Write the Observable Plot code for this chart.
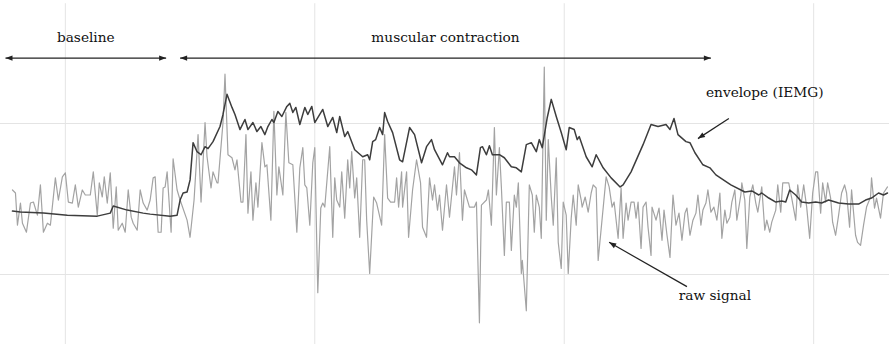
<!DOCTYPE html>
<html>
<head>
<meta charset="utf-8">
<script src="https://cdn.jsdelivr.net/npm/d3@7"></script>
<script src="https://cdn.jsdelivr.net/npm/@observablehq/plot@0.6"></script>
<style>
  html, body { margin: 0; padding: 0; background: #fff; }
  #chart svg { display: block; }
  #chart svg text { font-family: "DejaVu Serif", serif !important; }
</style>
</head>
<body>
<div id="chart"></div>
<script>
// ---- data (sample index, amplitude in arbitrary units) ----
const rawX = [197,200,202,205,207,211,215,218,222,225,228,232,235,240,243,247,250,253,257,260,263,267,270,275,278,282,284,287,289,292,295,298,301,303,307,310,313,316,318,322,325,328,332,335,338,340,343,346,348,350,352,356,358,362,365,372,375,379,383,386,390,392,396,398,402,403,408,410,413,417,420,422,426,428,431,433,436,438,441,443,447,450,452,456,459,462,464,468,471,474,478,482,485,488,490,492,495,498,500,503,506,508,510,515,518,520,522,525,527,530,533,535,537,540,542,545,548,550,552,555,559,562,567,570,573,576,580,582,584,587,588,592,594,598,602,606,608,612,615,618,620,623,625,628,632,635,640,642,645,648,650,655,660,662,665,667,672,674,677,680,682,685,687,690,692,695,697,700,702,704,707,708,712,715,718,720,722,725,727,730,732,734,737,739,742,744,747,749,752,754,757,759,762,764,767,768,771,774,777,779,782,784,792,795,798,800,804,807,809,812,814,817,820,822,824,827,829,832,834,837,838,842,845,848,850,853,856,859,862,865,868,871,873,876,879,882,884,887,889,892,894,897,900,903,906,908,911,913,916,918,921,923,927,928,931,933,936,939,942,944,948,951,953,956,958,962,964,967,969,975,978,982,984,987,990,993,996,999,1002,1004,1007,1009,1012,1014,1017,1019,1022,1025,1028,1031,1033,1036,1038,1042,1044,1047,1050,1053,1057,1058,1061,1063,1067,1070,1074];
const rawY = [84,81,49,71,51,42,71,72,59,89,42,51,49,96,74,97,101,72,71,89,67,84,79,79,102,59,91,77,97,71,101,46,87,44,51,42,84,57,51,44,84,71,64,74,96,97,42,42,86,87,102,42,115,84,74,54,37,74,139,72,151,117,86,102,91,91,151,199,119,116,104,114,72,72,139,61,102,54,91,67,131,107,109,54,162,79,107,79,161,111,109,42,106,126,89,86,49,111,126,-18,66,71,67,127,37,96,74,67,102,56,114,86,122,76,96,37,114,114,54,1,77,71,49,139,76,72,72,96,67,102,67,102,37,84,114,91,47,37,96,74,89,64,79,44,89,57,107,79,121,54,84,67,67,72,-48,69,74,84,49,146,79,126,87,19,72,72,24,79,67,91,1,14,-36,89,79,42,79,67,36,206,54,134,77,49,116,32,6,72,59,1,56,79,49,89,74,67,77,62,81,89,86,14,97,87,67,72,36,86,36,71,54,72,72,56,72,26,67,72,47,19,67,54,66,34,64,39,17,79,49,61,34,61,66,39,54,61,79,49,64,71,84,62,67,54,81,36,64,51,57,72,84,54,79,91,74,26,77,89,71,62,87,44,54,42,52,64,89,62,91,91,76,54,89,67,89,67,36,81,102,102,61,91,72,91,76,52,39,59,81,89,81,47,84,39,32,29,49,67,77,96,66,76,56,81,87];

const envX = [197,205,228,252,282,295,298,312,328,335,355,362,365,368,372,375,378,382,386,390,393,398,405,408,412,417,420,425,430,433,438,442,446,450,453,457,459,463,467,472,475,478,481,485,490,493,497,500,508,513,518,522,525,530,533,540,548,553,555,558,561,565,568,570,573,578,585,588,595,600,607,612,617,620,628,633,635,640,645,652,657,662,666,668,672,675,678,685,690,697,702,707,712,717,722,725,728,733,737,742,747,752,755,760,763,765,772,778,782,789,797,806,809,817,829,837,844,852,856,860,864,872,876,881,889,896,902,917,931,938,945,948,955,962,968,972,976,982,988,995,1002,1008,1015,1025,1035,1045,1052,1058,1065,1070,1074];
const envY = [63,62,61,59,58,61,68,64,61,60,58,59,74,81,82,94,131,122,119,127,125,132,147,159,179,166,159,144,154,144,151,142,147,139,147,154,151,162,157,167,170,161,166,149,166,159,167,151,164,147,156,141,157,137,142,124,117,119,114,132,134,146,139,161,152,141,114,112,146,139,111,127,134,124,109,121,117,117,111,106,104,99,126,127,119,128,119,119,116,107,106,102,129,131,122,134,126,156,174,157,141,124,146,144,134,137,117,107,119,106,96,87,89,102,129,149,147,149,144,155,139,132,131,121,109,106,99,89,82,83,79,81,76,72,73,72,84,79,72,71,72,71,74,71,70,70,74,76,81,79,81];

const gridXTicks = [250, 500, 750, 1000];
const gridYTicks = [0, 150];

// phase spans (double-headed arrows) and their labels
const spanLabels = ["baseline", "muscular contraction"];
const spanStart = [190, 365];
const spanEnd = [351, 897];
const spanLevel = 215;
const spanLabelLevel = 231;

// callouts
const calloutLabels = ["envelope (IEMG)", "raw signal"];
const calloutLabelX = [951, 901];
const calloutLabelY = [176, -25];
const calloutFromX = [915, 873];
const calloutFromY = [155, -12];
const calloutToX = [884, 795];
const calloutToY = [135, 32];

// ---- tables ----
const raw = rawX.map((x, i) => ({x, y: rawY[i]}));
const env = envX.map((x, i) => ({x, y: envY[i]}));
const spans = spanLabels.map((label, i) => ({label, x1: spanStart[i], x2: spanEnd[i], xm: (spanStart[i] + spanEnd[i]) / 2}));
const callouts = calloutLabels.map((label, i) => ({
  label, lx: calloutLabelX[i], ly: calloutLabelY[i],
  x1: calloutFromX[i], y1: calloutFromY[i], x2: calloutToX[i], y2: calloutToY[i]
}));

// filled triangular arrowhead
function triangleHead(orient) {
  return (color, context) => {
    const m = d3.create("svg:marker")
      .attr("viewBox", "-8 -4 9 8")
      .attr("markerWidth", 9)
      .attr("markerHeight", 8)
      .attr("markerUnits", "userSpaceOnUse")
      .attr("orient", orient)
      .attr("fill", color)
      .attr("stroke", "none");
    m.append("path").attr("d", "M0,0L-7,-2.7L-7,2.7Z");
    return m.node();
  };
}

const font = "DejaVu Serif";

const chart = Plot.plot({
  width: 889,
  height: 344,
  marginTop: 0, marginRight: 0, marginBottom: 0, marginLeft: 0,
  x: {domain: [185, 1076], axis: null},
  y: {domain: [-69.5, 272.2], axis: null},
  style: {fontFamily: font, background: "#fff"},
  marks: [
    Plot.ruleX(gridXTicks, {y1: -69.5, y2: 269, stroke: "#e4e4e4", strokeWidth: 1}),
    Plot.ruleY(gridYTicks, {stroke: "#e4e4e4", strokeWidth: 1}),
    Plot.line(raw, {x: "x", y: "y", stroke: "#a3a3a3", strokeWidth: 1.2}),
    Plot.line(env, {x: "x", y: "y", stroke: "#3d3d3d", strokeWidth: 1.5}),
    Plot.link(spans, {x1: "x1", x2: "x2", y1: spanLevel, y2: spanLevel, stroke: "#222", strokeWidth: 1.3,
      markerStart: triangleHead("auto-start-reverse"), markerEnd: triangleHead("auto")}),
    Plot.text(spans, {x: "xm", y: spanLabelLevel, text: "label", lineAnchor: "bottom", fontSize: 13.7, fill: "#111"}),
    Plot.link(callouts, {x1: "x1", y1: "y1", x2: "x2", y2: "y2", stroke: "#222", strokeWidth: 1.2,
      markerEnd: triangleHead("auto")}),
    Plot.text(callouts, {x: "lx", y: "ly", text: "label", lineAnchor: "bottom", fontSize: 13.7, fill: "#111"})
  ]
});
document.getElementById("chart").append(chart);
</script>
</body>
</html>
